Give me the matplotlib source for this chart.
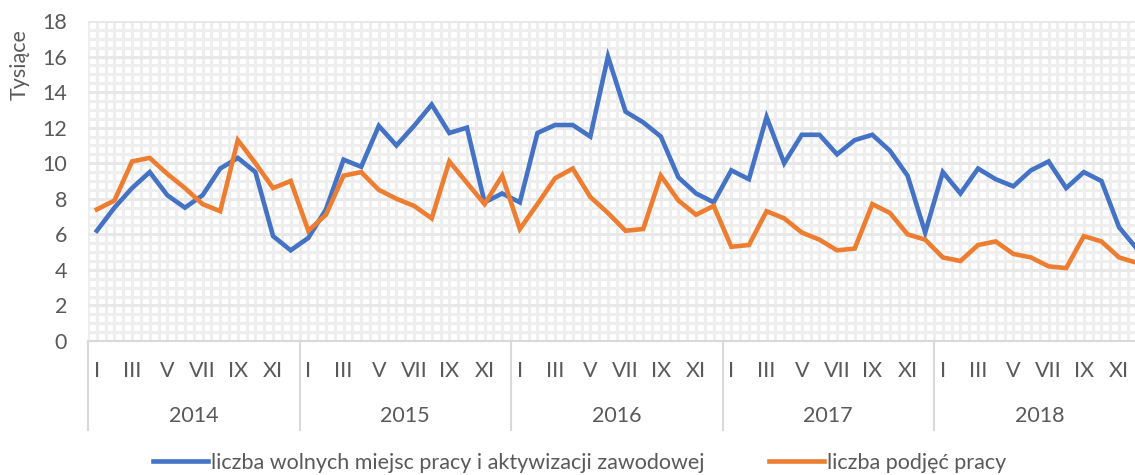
import matplotlib
matplotlib.use("Agg")
import matplotlib.pyplot as plt
import matplotlib.transforms as mtransforms
from matplotlib.lines import Line2D
import numpy as np

plt.rcParams['font.family'] = ['Lato', 'DejaVu Sans']

years = ['2014', '2015', '2016', '2017', '2018']
months = ['I', 'II', 'III', 'IV', 'V', 'VI', 'VII', 'VIII', 'IX', 'X', 'XI', 'XII']

# tysiące, miesięcznie 2014-2018
wolne_miejsca = [
    6.2, 7.5, 8.6, 9.5, 8.2, 7.5, 8.2, 9.7, 10.3, 9.5, 5.9, 5.1,
    5.8, 7.4, 10.2, 9.8, 12.1, 11.0, 12.1, 13.3, 11.7, 12.0, 7.8, 8.3,
    7.8, 11.7, 12.15, 12.15, 11.5, 16.0, 12.9, 12.3, 11.5, 9.2, 8.3, 7.8,
    9.6, 9.1, 12.6, 10.0, 11.6, 11.6, 10.5, 11.3, 11.6, 10.7, 9.3, 6.1,
    9.5, 8.3, 9.7, 9.1, 8.7, 9.6, 10.1, 8.6, 9.5, 9.0, 6.4, 5.2,
]
podjecia_pracy = [
    7.4, 7.9, 10.1, 10.3, 9.4, 8.6, 7.7, 7.3, 11.3, 10.0, 8.6, 9.0,
    6.2, 7.1, 9.3, 9.5, 8.5, 8.0, 7.6, 6.9, 10.1, 8.9, 7.7, 9.3,
    6.3, 7.7, 9.15, 9.7, 8.1, 7.2, 6.2, 6.3, 9.3, 7.9, 7.1, 7.6,
    5.3, 5.4, 7.3, 6.9, 6.1, 5.7, 5.1, 5.2, 7.7, 7.2, 6.0, 5.7,
    4.7, 4.5, 5.4, 5.6, 4.9, 4.7, 4.2, 4.1, 5.9, 5.6, 4.7, 4.4,
]
label_wolne = 'liczba wolnych miejsc pracy i aktywizacji zawodowej'
label_podjecia = 'liczba podjęć pracy'

grey = '#595959'
line_grey = '#d9d9d9'
blue = '#4472C4'
orange = '#ED7D31'
fs = 15.5

W, H = 1135, 475
fig = plt.figure(figsize=(W / 100, H / 100), dpi=100)
# plot area runs past the right edge, as in the cropped original
ax = fig.add_axes([88 / W, 1 - 341 / H, 1057.5 / W, 320 / H])

x = np.arange(len(wolne_miejsca))
ax.plot(x, wolne_miejsca, color=blue, lw=3.3, solid_joinstyle='miter', zorder=3)
ax.plot(x, podjecia_pracy, color=orange, lw=3.3, solid_joinstyle='miter', zorder=3)

ax.set_xlim(-0.5, len(x) - 0.5)
ax.set_ylim(0, 18)

# dense light grid pattern of the background
ax.set_yticks(np.arange(0, 19, 2))
ax.set_yticks(np.arange(0, 18.01, 0.5), minor=True)
ax.set_xticks(np.arange(-0.5, len(x), 0.5), minor=True)
ax.grid(which='minor', color='#eeeeee', lw=2.2)
ax.grid(which='major', axis='y', color='#e8e8e8', lw=2.2)
ax.set_axisbelow(True)
ax.tick_params(which='both', length=0)
ax.tick_params(axis='y', labelsize=fs, labelcolor=grey, pad=15)
ax.set_xticks([])
for s in ['top', 'right', 'left']:
    ax.spines[s].set_visible(False)
ax.spines['bottom'].set_color(line_grey)
ax.spines['bottom'].set_linewidth(1.5)

fig.text(20 / W, 1 - 65 / H, 'Tysiące', rotation=90, ha='center', va='center',
         fontsize=fs, color=grey)

# two-level category axis: months and years
trans = mtransforms.blended_transform_factory(ax.transData, ax.transAxes)
for yi, year in enumerate(years):
    for mi in range(0, 12, 2):
        ax.text(yi * 12 + mi, -30 / 320, months[mi], transform=trans,
                ha='center', va='center', fontsize=fs, color=grey)
    ax.text(yi * 12 + 5.5, -75 / 320, year, transform=trans,
            ha='center', va='center', fontsize=fs, color=grey)
    ax.plot([yi * 12 - 0.5, yi * 12 - 0.5], [0, -89 / 320], transform=trans,
            color=line_grey, lw=1.5, clip_on=False)

handles = [Line2D([], [], color=blue, lw=3.3), Line2D([], [], color=orange, lw=3.3)]
leg = fig.legend(handles, [label_wolne, label_podjecia], loc='center',
                 bbox_to_anchor=(580 / W, 1 - 463 / H), ncol=2, frameon=False,
                 fontsize=fs, handlelength=2.55, handletextpad=0.14,
                 columnspacing=3.0, labelcolor=grey)

fig.savefig('out.png', dpi=100)
